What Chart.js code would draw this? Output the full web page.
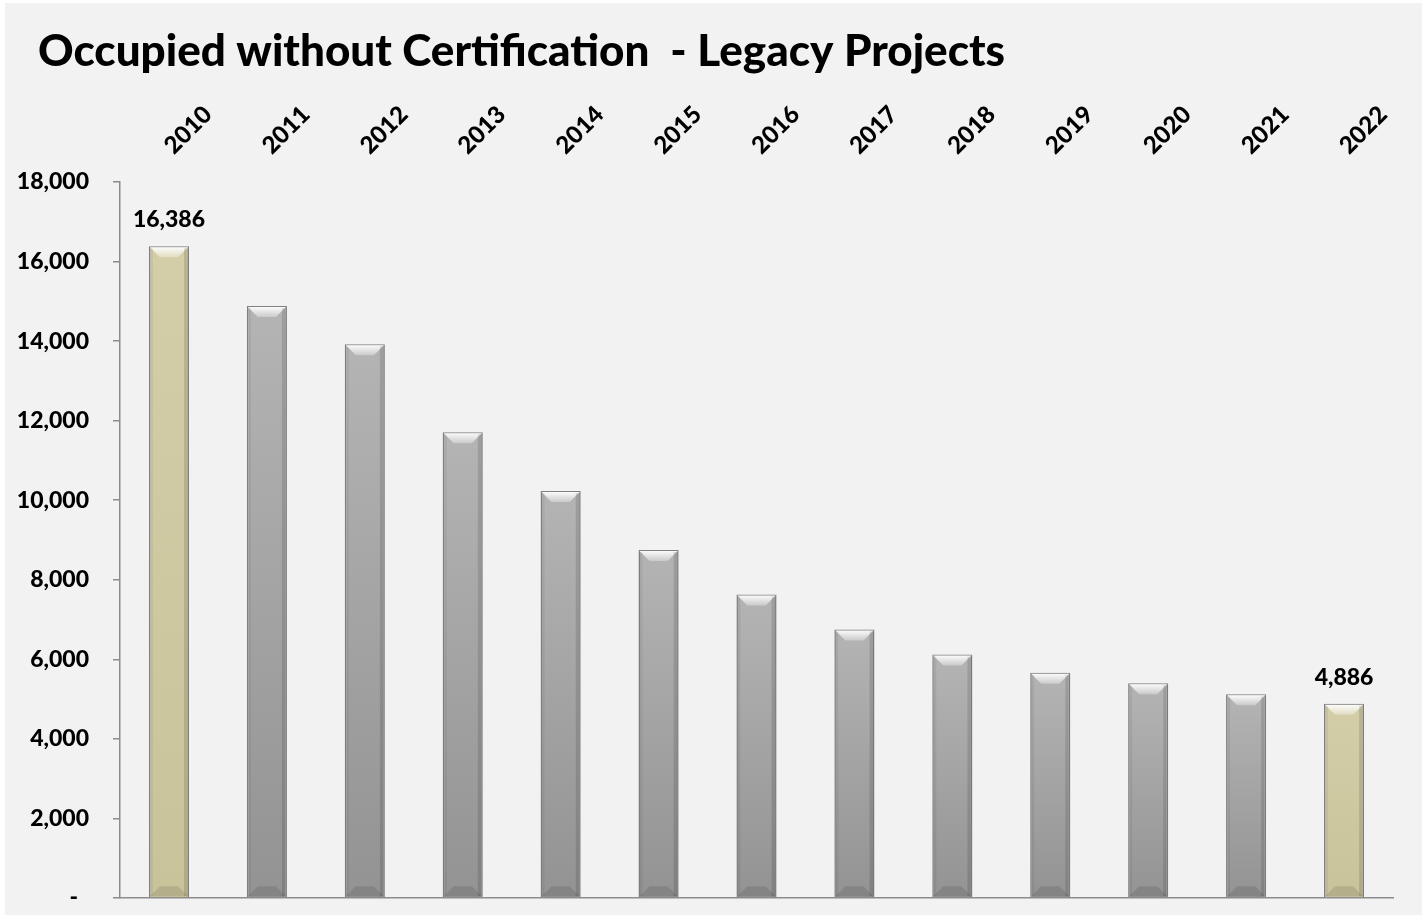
<!DOCTYPE html>
<html>
<head>
<meta charset="utf-8">
<script src="https://cdn.jsdelivr.net/npm/chart.js@4"></script>
<style>
  html, body { margin: 0; padding: 0; background: #ffffff; }
  #wrap { position: relative; width: 1425px; height: 919px; }
</style>
</head>
<body>
<div id="wrap"><canvas id="c" width="1425" height="919"></canvas></div>
<script>
const titleText = 'Occupied without Certification  - Legacy Projects';
const years = ['2010','2011','2012','2013','2014','2015','2016','2017','2018','2019','2020','2021','2022'];
const values = [16386, 14880, 13920, 11710, 10230, 8750, 7630, 6750, 6120, 5660, 5400, 5120, 4886];
const highlighted = [true, false, false, false, false, false, false, false, false, false, false, false, true];
const yTicks = { min: 0, max: 18000, step: 2000 };

const FONT = 'Lato, "Open Sans", "DejaVu Sans", sans-serif';
const W = '900';

function fmt(v) {
  return v === 0 ? '-  ' : v.toLocaleString('en-US');
}

function barFill(ctx) {
  const chart = ctx.chart;
  const hi = highlighted[ctx.dataIndex];
  const area = chart.chartArea;
  if (!area || !chart.scales.y) return hi ? '#cec8a0' : '#a8a8a8';
  const top = chart.scales.y.getPixelForValue(ctx.raw);
  const bottom = chart.scales.y.getPixelForValue(0);
  const g = chart.ctx.createLinearGradient(0, top, 0, bottom);
  if (hi) {
    g.addColorStop(0, '#d3cea8');
    g.addColorStop(1, '#c9c39a');
  } else {
    g.addColorStop(0, '#b4b4b4');
    g.addColorStop(1, '#939393');
  }
  return g;
}

const bgPlugin = {
  id: 'bg',
  beforeDraw(chart) {
    const c = chart.ctx;
    c.save();
    c.fillStyle = '#ffffff';
    c.fillRect(0, 0, chart.width, chart.height);
    c.fillStyle = '#f2f2f2';
    c.fillRect(5, 3, chart.width - 8, chart.height - 7);
    c.restore();
  }
};

const decoPlugin = {
  id: 'deco',
  afterDatasetsDraw(chart) {
    const c = chart.ctx;
    const meta = chart.getDatasetMeta(0);
    c.save();
    meta.data.forEach((el, i) => {
      const w = el.width;
      const x0 = el.x - w / 2, x1 = el.x + w / 2;
      const top = el.y, bot = el.base;
      const b = 11;
      const g = c.createLinearGradient(0, top, 0, top + b);
      g.addColorStop(0, 'rgba(255,255,255,1)');
      g.addColorStop(1, 'rgba(255,255,255,0.3)');
      c.fillStyle = g;
      c.beginPath();
      c.moveTo(x0 + 1, top + 1);
      c.lineTo(x1 - 1, top + 1);
      c.lineTo(x1 - b, top + b);
      c.lineTo(x0 + b, top + b);
      c.closePath();
      c.fill();
      c.fillStyle = 'rgba(0,0,0,0.12)';
      c.fillRect(x1 - 5, top + 2, 4, bot - top - 3);
      c.fillStyle = 'rgba(0,0,0,0.06)';
      c.fillRect(x0 + 1, top + 2, 3, bot - top - 3);
      c.fillStyle = 'rgba(0,0,0,0.10)';
      c.beginPath();
      c.moveTo(x0 + 1, bot - 1);
      c.lineTo(x1 - 1, bot - 1);
      c.lineTo(x1 - b, bot - b);
      c.lineTo(x0 + b, bot - b);
      c.closePath();
      c.fill();
      if (highlighted[i]) {
        c.fillStyle = '#000';
        c.font = W + ' 23px ' + FONT;
        c.textAlign = 'center';
        c.textBaseline = 'alphabetic';
        c.fillText(fmt(values[i]), el.x, top - 19);
      }
    });
    c.restore();
  },
  afterDraw(chart) {
    const c = chart.ctx;
    c.save();
    c.fillStyle = '#000';
    c.font = W + ' 44px ' + FONT;
    c.textAlign = 'left';
    c.textBaseline = 'alphabetic';
    c.fillText(titleText, 38, 66);
    c.restore();
  }
};

new Chart(document.getElementById('c'), {
  type: 'bar',
  data: {
    labels: years,
    datasets: [{
      data: values,
      backgroundColor: barFill,
      borderColor: '#808080',
      borderWidth: 1.5,
      barPercentage: 0.41,
      categoryPercentage: 1.0
    }]
  },
  options: {
    responsive: false,
    animation: false,
    layout: { padding: { left: 0, right: 32, top: 0, bottom: 21 } },
    plugins: {
      legend: { display: false },
      title: { display: false },
      tooltip: { enabled: false }
    },
    scales: {
      x: {
        position: 'top',
        grid: { display: false, drawTicks: false },
        border: { display: false },
        ticks: {
          color: '#000',
          font: { family: FONT, size: 24, weight: W },
          minRotation: 45,
          maxRotation: 45,
          padding: 22,
          labelOffset: 20
        },
        afterFit(scale) { scale.height = 182; }
      },
      x2: {
        type: 'category',
        labels: years,
        position: 'bottom',
        grid: { display: false, drawTicks: false },
        border: { display: true, color: '#8c8c8c', width: 1.5 },
        ticks: { display: false },
        afterFit(scale) { scale.height = 0; }
      },
      y: {
        min: yTicks.min,
        max: yTicks.max,
        grid: { drawOnChartArea: false, drawTicks: true, tickLength: 7, color: '#8c8c8c', lineWidth: 1.5 },
        border: { display: true, color: '#8c8c8c', width: 1.5 },
        ticks: {
          stepSize: yTicks.step,
          color: '#000',
          padding: 24,
          font: { family: FONT, size: 23, weight: W },
          callback: (v) => fmt(v)
        },
        afterFit(scale) {
          scale.width = 120;
          scale.paddingTop = 0;
          scale.paddingBottom = 0;
        }
      }
    }
  },
  plugins: [bgPlugin, decoPlugin]
});
</script>
</body>
</html>
